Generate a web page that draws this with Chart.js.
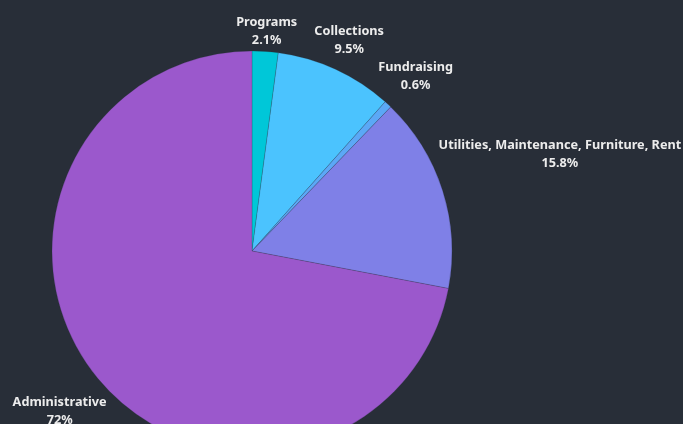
<!DOCTYPE html>
<html>
<head>
<meta charset="utf-8">
<script src="https://cdn.jsdelivr.net/npm/chart.js@4"></script>
<style>
html,body{margin:0;padding:0;background:#282e38;overflow:hidden;width:683px;height:424px;}
#wrap{position:absolute;left:0;top:0;width:683px;height:502px;}
</style>
</head>
<body>
<div id="wrap"><canvas id="c"></canvas></div>
<script>
const categories = ["Programs", "Collections", "Fundraising", "Utilities, Maintenance, Furniture, Rent", "Administrative"];
const values = [2.1, 9.5, 0.6, 15.8, 72];
const valueLabels = ["2.1%", "9.5%", "0.6%", "15.8%", "72%"];
const colors = ["#00c7d8", "#4bc3fe", "#5ba8f6", "#7f80e7", "#9b58cc"];

const labelPlugin = {
  id: 'outLabels',
  afterDatasetsDraw(chart) {
    const ctx = chart.ctx;
    const meta = chart.getDatasetMeta(0);
    ctx.save();
    ctx.font = "bold 12.7px 'Noto Sans', sans-serif";
    ctx.fillStyle = "#ececec";
    ctx.textAlign = "center";
    ctx.textBaseline = "middle";
    const lh = 18;
    meta.data.forEach((arc, i) => {
      const mid = (arc.startAngle + arc.endAngle) / 2;
      const dx = Math.cos(mid), dy = Math.sin(mid);
      const w = Math.max(ctx.measureText(categories[i]).width, ctx.measureText(valueLabels[i]).width);
      const h = lh * 2;
      const d = arc.outerRadius + 2 + (w / 2) * Math.abs(dx) + (h / 2) * Math.abs(dy);
      const cx = arc.x + d * dx, cy = arc.y + d * dy + 1.5;
      ctx.fillText(categories[i], cx, cy - lh / 2);
      ctx.fillText(valueLabels[i], cx, cy + lh / 2);
    });
    ctx.restore();
  }
};

new Chart(document.getElementById('c'), {
  type: 'pie',
  data: {
    labels: categories,
    datasets: [{
      data: values,
      backgroundColor: colors,
      borderColor: "rgba(40,46,56,0.35)",
      borderWidth: 0.6
    }]
  },
  options: {
    responsive: true,
    maintainAspectRatio: false,
    animation: false,
    radius: 200,
    layout: { padding: { left: 0, right: 179, top: 0, bottom: 0 } },
    plugins: { legend: { display: false }, tooltip: { enabled: false } }
  },
  plugins: [labelPlugin]
});
</script>
</body>
</html>
